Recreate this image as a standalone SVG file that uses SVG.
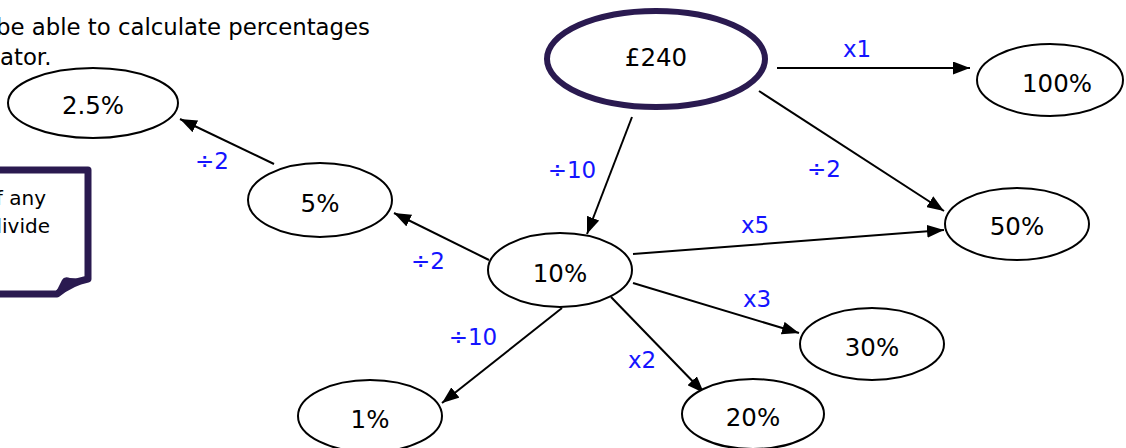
<svg xmlns="http://www.w3.org/2000/svg" width="1126" height="448" viewBox="0 0 1126 448">
<defs>
<style>
.node ellipse{fill:#fff;stroke:#000;stroke-width:2}
.node text{font-family:"DejaVu Sans",Verdana,sans-serif;font-size:24.5px;fill:#000;text-anchor:middle}
.edge line{stroke:#000;stroke-width:2;marker-end:url(#ah)}
.lbl{font-family:"DejaVu Sans",Verdana,sans-serif;font-size:23px;fill:#1414ff;text-anchor:middle}
.hdr{font-family:"DejaVu Sans",Verdana,sans-serif;font-size:22.8px;fill:#000}
.nt{font-family:"DejaVu Sans",Verdana,sans-serif;font-size:20px;fill:#000;text-anchor:end}
</style>
<marker id="ah" viewBox="0 0 10 10" refX="10" refY="5" markerWidth="17" markerHeight="13" markerUnits="userSpaceOnUse" orient="auto" preserveAspectRatio="none">
<path d="M0,0 L10,5 L0,10 z" fill="#000"/>
</marker>
</defs>
<rect width="1126" height="448" fill="#fff"/>

<g id="header">
<text class="hdr" x="-4" y="35">be able to calculate percentages</text>
<text class="hdr" x="0" y="65">ator.</text>
</g>

<g id="note">
<path d="M-10,170 L88,170 L88,279 Q72,282 57,294 L-10,294" fill="#fff" stroke="#2a1a50" stroke-width="7" stroke-linejoin="round"/>
<path d="M54,296 L62,280 Q64,276 70,278 L88,279 Q72,284 54,296 z" fill="#2a1a50"/>
<text class="nt" x="46" y="205">of any</text>
<text class="nt" x="50" y="233">divide</text>
</g>

<g id="connectors">
<g class="edge"><line x1="777" y1="68" x2="970" y2="68"/></g>
<g class="edge"><line x1="759" y1="91" x2="944" y2="211"/></g>
<g class="edge"><line x1="632" y1="117" x2="587" y2="234"/></g>
<g class="edge"><line x1="633" y1="254" x2="944" y2="230"/></g>
<g class="edge"><line x1="633" y1="283" x2="799" y2="333"/></g>
<g class="edge"><line x1="611" y1="297" x2="704" y2="393"/></g>
<g class="edge"><line x1="562" y1="308" x2="442" y2="403"/></g>
<g class="edge"><line x1="489" y1="260" x2="394" y2="213"/></g>
<g class="edge"><line x1="274" y1="164" x2="180" y2="119"/></g>
<text class="lbl" x="857" y="57">x1</text>
<text class="lbl" x="824" y="177">÷2</text>
<text class="lbl" x="572" y="178">÷10</text>
<text class="lbl" x="755" y="233">x5</text>
<text class="lbl" x="757" y="307">x3</text>
<text class="lbl" x="642" y="368">x2</text>
<text class="lbl" x="473" y="345">÷10</text>
<text class="lbl" x="428" y="269">÷2</text>
<text class="lbl" x="212" y="169">÷2</text>
</g>

<g id="n240" class="node"><ellipse cx="656" cy="59" rx="109" ry="48" style="stroke:#2a1a50;stroke-width:6"/><text x="656" y="66">£240</text></g>
<g id="n100" class="node"><ellipse cx="1050" cy="80" rx="73" ry="36"/><text x="1057" y="92">100%</text></g>
<g id="n50" class="node"><ellipse cx="1017" cy="224" rx="72" ry="36"/><text x="1017" y="235">50%</text></g>
<g id="n10" class="node"><ellipse cx="560" cy="270" rx="72" ry="37"/><text x="560" y="282">10%</text></g>
<g id="n5" class="node"><ellipse cx="320" cy="200" rx="72" ry="37"/><text x="320" y="212">5%</text></g>
<g id="n25" class="node"><ellipse cx="93" cy="103" rx="85" ry="35"/><text x="93" y="114">2.5%</text></g>
<g id="n30" class="node"><ellipse cx="872" cy="344" rx="72" ry="36"/><text x="872" y="356">30%</text></g>
<g id="n20" class="node"><ellipse cx="753" cy="414" rx="71" ry="35"/><text x="753" y="426">20%</text></g>
<g id="n1" class="node"><ellipse cx="370" cy="416" rx="72" ry="36"/><text x="370" y="428">1%</text></g>
</svg>
